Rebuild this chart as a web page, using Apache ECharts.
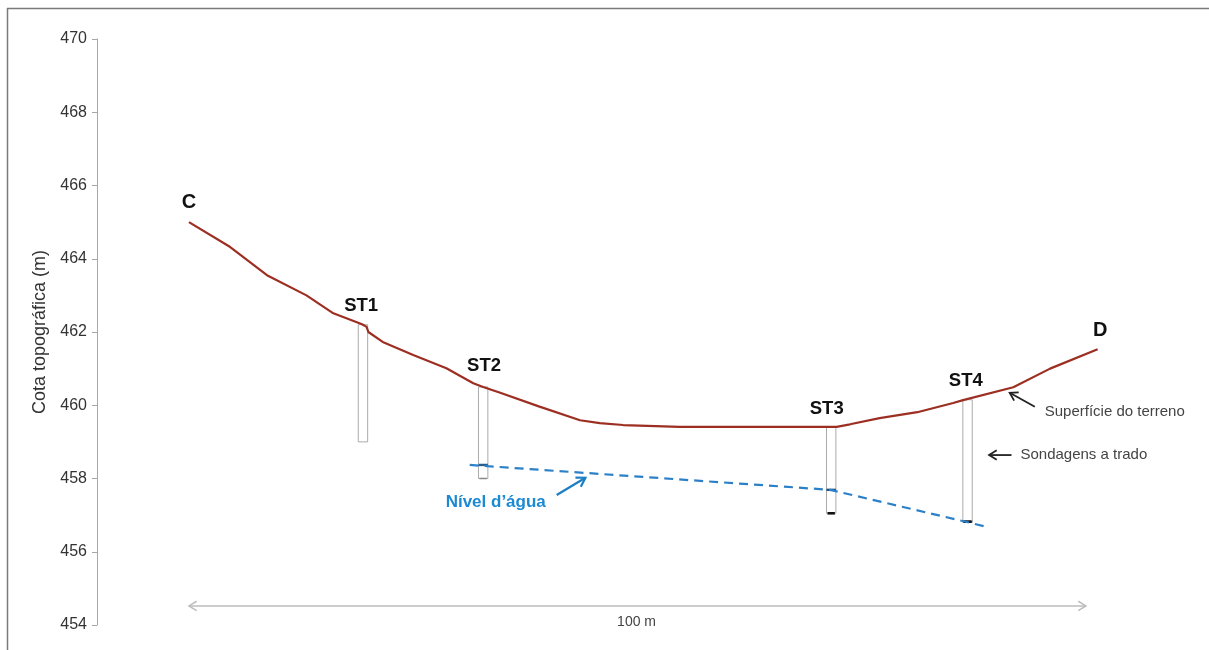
<!DOCTYPE html>
<html><head><meta charset="utf-8">
<script src="https://cdn.jsdelivr.net/npm/echarts@6/dist/echarts.min.js"></script>
<style>html,body{margin:0;padding:0;background:#fff}#c{width:1209px;height:650px}</style>
</head><body><div id="c"></div>
<script>
// ---- data (distance in m, elevation in m) ----
const profileX = [0, 4.6, 8.7, 13.1, 16.1, 19.3, 19.8, 20.0, 21.6, 25.0, 28.7, 31.7, 32.8, 34.7, 39.0, 43.6, 45.8, 48.4, 54.7, 63.0, 72.2, 73.7, 77.0, 81.2, 85.2, 86.3, 91.9, 96.0, 101.3];
const profileY = [465.0, 464.32, 463.55, 463.0, 462.51, 462.21, 462.14, 462.0, 461.73, 461.37, 461.01, 460.60, 460.50, 460.34, 459.97, 459.59, 459.51, 459.46, 459.41, 459.41, 459.41, 459.48, 459.65, 459.81, 460.06, 460.14, 460.49, 461.0, 461.53];
const waterX = [31.3, 71.5, 87.1, 88.6];
const waterY = [458.37, 457.69, 456.79, 456.70];
const boreNames = ['ST1', 'ST2', 'ST3', 'ST4'];
const boreX = [19.4, 32.8, 71.6, 86.8];
const boreTop = [462.2, 460.5, 459.4, 460.15];
const boreBottom = [459.0, 458.0, 457.05, 456.82];
const boreWater = [null, 458.37, 457.69, 456.82];
const yMin = 454, yMax = 470, yStep = 2;
const scaleLen = 100;
const scaleText = '100 m';
const yTitle = 'Cota topográfica (m)';

// ---- annotation placement (data coordinates) ----
const labels = [
  { t: 'C', x: 0, y: 465.54, k: 'pt' },
  { t: 'D', x: 101.6, y: 462.05, k: 'pt' },
  { t: boreNames[0], x: 19.2, y: 462.70, k: 'st' },
  { t: boreNames[1], x: 32.9, y: 461.07, k: 'st' },
  { t: boreNames[2], x: 71.1, y: 459.90, k: 'st' },
  { t: boreNames[3], x: 86.6, y: 460.66, k: 'st' },
  { t: 'Nível d\u2019água', x: 34.2, y: 457.36, k: 'water' },
  { t: 'Superfície do terreno', x: 95.4, y: 459.81, k: 'note' },
  { t: 'Sondagens a trado', x: 92.7, y: 458.64, k: 'note' },
  { t: scaleText, x: 49.9, y: 454.08, k: 'scale' }
];
const arrows = [
  { a: [0, 454.52], b: [scaleLen, 454.52], both: true, k: 'scale' },
  { a: [41.0, 457.55], b: [44.2, 458.02], both: false, k: 'water' },
  { a: [94.3, 459.96], b: [91.5, 460.34], both: false, k: 'note' },
  { a: [91.7, 458.64], b: [89.2, 458.64], both: false, k: 'note' }
];

const FONT = '"Liberation Sans", Arial, sans-serif';
const textStyles = {
  pt: { fill: '#111', fontSize: 20, fontWeight: 'bold', align: 'center' },
  st: { fill: '#111', fontSize: 18.5, fontWeight: 'bold', align: 'center' },
  water: { fill: '#1c8ad2', fontSize: 17, fontWeight: 'bold', align: 'center' },
  note: { fill: '#444', fontSize: 15, fontWeight: 'normal', align: 'left' },
  scale: { fill: '#444', fontSize: 14, fontWeight: 'normal', align: 'center' }
};
const arrowStyles = {
  scale: { stroke: '#bdbdbd', lineWidth: 1.5, head: 9 },
  water: { stroke: '#1c7fc4', lineWidth: 2.2, head: 10 },
  note: { stroke: '#222', lineWidth: 1.8, head: 9 }
};
const boreMarks = {
  ST1: { water: null, bottom: null },
  ST2: { water: '#2a5f8f', bottom: '#888' },
  ST3: { water: '#1f4f80', bottom: '#111' },
  ST4: { water: '#1f3f70', bottom: '#111' }
};

const chart = echarts.init(document.getElementById('c'));

function headPts(tip, from, len) {
  const dx = tip[0] - from[0], dy = tip[1] - from[1];
  const L = Math.hypot(dx, dy) || 1;
  const ux = dx / L, uy = dy / L, ang = 0.55;
  const r = (s) => {
    const c = Math.cos(s * ang), sn = Math.sin(s * ang);
    return [tip[0] - len * (ux * c - uy * sn), tip[1] - len * (ux * sn + uy * c)];
  };
  return [r(1), tip, r(-1)];
}

const option = {
  animation: false,
  backgroundColor: '#fff',
  grid: { left: 97, right: 12, top: 39, bottom: 25 },
  xAxis: { type: 'value', min: -10.25, max: 112.38, show: false },
  yAxis: {
    type: 'value', min: yMin, max: yMax, interval: yStep,
    name: yTitle, nameLocation: 'middle', nameGap: 47,
    nameTextStyle: { fontFamily: FONT, fontSize: 18, color: '#333' },
    axisLine: { show: true, onZero: false, lineStyle: { color: '#a8a8a8', width: 1 } },
    axisTick: { show: true, length: 5, lineStyle: { color: '#a8a8a8' } },
    axisLabel: { fontFamily: FONT, fontSize: 16, color: '#333', margin: 10 },
    splitLine: { show: false }
  },
  graphic: [
    { type: 'line', shape: { x1: 7, y1: 8.5, x2: 1209, y2: 8.5 }, style: { stroke: '#7a7a7a', lineWidth: 1.5 }, silent: true },
    { type: 'line', shape: { x1: 7.5, y1: 8, x2: 7.5, y2: 650 }, style: { stroke: '#7a7a7a', lineWidth: 1.5 }, silent: true }
  ],
  series: [
    {
      type: 'custom', name: 'Sondagens', z: 2, clip: false,
      data: boreX.map((x, i) => [x, boreTop[i], boreBottom[i], boreWater[i] == null ? NaN : boreWater[i], i]),
      renderItem: function (params, api) {
        const i = api.value(4);
        const x = api.value(0);
        const pt = api.coord([x, api.value(1)]);
        const pb = api.coord([x, api.value(2)]);
        const hw = 4.7;
        const ch = [{
          type: 'rect',
          shape: { x: pt[0] - hw, y: pt[1], width: hw * 2, height: pb[1] - pt[1] },
          style: { fill: '#fff', stroke: '#ababab', lineWidth: 1 }
        }];
        const m = boreMarks[boreNames[i]];
        const wv = api.value(3);
        if (m.water && !isNaN(wv)) {
          const pw = api.coord([x, wv]);
          ch.push({ type: 'line', shape: { x1: pt[0] - hw, y1: pw[1], x2: pt[0] + hw, y2: pw[1] }, style: { stroke: m.water, lineWidth: 2.4 } });
        }
        if (m.bottom) {
          ch.push({ type: 'line', shape: { x1: pb[0] - hw + 1, y1: pb[1], x2: pb[0] + hw - 1, y2: pb[1] }, style: { stroke: m.bottom, lineWidth: m.bottom === '#888' ? 1.5 : 2.6 } });
        }
        return { type: 'group', children: ch };
      }
    },
    {
      type: 'line', name: 'Nível d\u2019água', z: 3,
      data: waterX.map((x, i) => [x, waterY[i]]),
      showSymbol: false, symbol: 'none',
      lineStyle: { color: '#2b80c8', width: 2.2, type: [9, 6] }
    },
    {
      type: 'line', name: 'Superfície do terreno', z: 4,
      data: profileX.map((x, i) => [x, profileY[i]]),
      showSymbol: false, symbol: 'none',
      lineStyle: { color: '#9d2e22', width: 2.2 }
    },
    {
      type: 'custom', name: 'arrows', z: 5, clip: false,
      data: arrows.map((a, i) => [a.a[0], a.a[1], a.b[0], a.b[1], i]),
      renderItem: function (params, api) {
        const ar = arrows[api.value(4)];
        const st = arrowStyles[ar.k];
        const p1 = api.coord([api.value(0), api.value(1)]);
        const p2 = api.coord([api.value(2), api.value(3)]);
        const sty = { stroke: st.stroke, lineWidth: st.lineWidth, fill: 'none' };
        const ch = [
          { type: 'line', shape: { x1: p1[0], y1: p1[1], x2: p2[0], y2: p2[1] }, style: sty },
          { type: 'polyline', shape: { points: headPts(p2, p1, st.head) }, style: sty }
        ];
        if (ar.both) ch.push({ type: 'polyline', shape: { points: headPts(p1, p2, st.head) }, style: sty });
        return { type: 'group', children: ch };
      }
    },
    {
      type: 'custom', name: 'labels', z: 6, clip: false,
      data: labels.map((l, i) => [l.x, l.y, i]),
      renderItem: function (params, api) {
        const l = labels[api.value(2)];
        const s = textStyles[l.k];
        const p = api.coord([api.value(0), api.value(1)]);
        return {
          type: 'text', x: p[0], y: p[1],
          style: { text: l.t, fill: s.fill, fontSize: s.fontSize, fontWeight: s.fontWeight, fontFamily: FONT, align: s.align, verticalAlign: 'middle' }
        };
      }
    }
  ]
};
chart.setOption(option);
</script>
</body></html>
